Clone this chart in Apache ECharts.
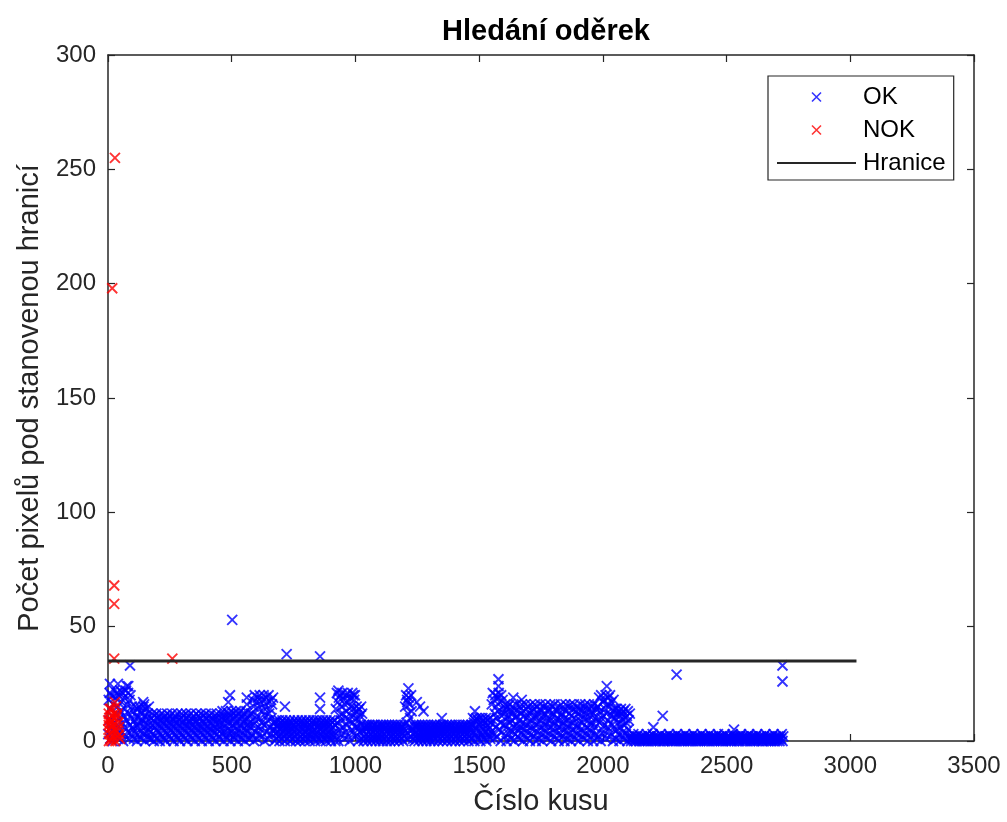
<!DOCTYPE html>
<html>
<head>
<meta charset="utf-8">
<script src="https://cdn.jsdelivr.net/npm/echarts@6/dist/echarts.min.js"></script>
<style>
html,body{margin:0;padding:0;background:#fff;}
#chart{width:1007px;height:822px;}
</style>
</head>
<body>
<div id="chart"></div>
<script>
// ---- data ----
const titleText = 'Hledání oděrek';
const xName = 'Číslo kusu';
const yName = 'Počet pixelů pod stanovenou hranicí';
const xTicks = [0, 500, 1000, 1500, 2000, 2500, 3000, 3500];
const yTicks = [0, 50, 100, 150, 200, 250, 300];

// OK pieces 1..2110, every 2nd piece, one array per stretch of pieces
const okSegStep = 2;
const okSegStarts = [1, 101, 171, 451, 581, 671, 921, 1001, 1031, 1201, 1231, 1471, 1551, 1601, 1661, 1981, 2051];
const okSegA = [3,18,9,21,1,14,6,20,11,0, 16,4,22,8,19,2,12,21,7,15, 1,20,10,5,22,13,3,17,8,21, 0,11,19,6,14,2,22,9,16,4, 21,12,1,18,7,20,10,3,15,6];
const okSegB = [5,13,1,9,15,3,11,7,0,14, 6,10,2,15,8,4,12,1,13,9, 3,15,6,11,0,8,14,4,10,2, 12,7,15,5,1];
const okSegC = [4,10,1,7,12,3,9,0,11,6, 2,8,12,5,1,10,4,7,11,0, 9,3,6,12,2,8,5,10,1,11, 7,0,4,9,12,3,6,10,2,8,
  11,5,1,7,12,4,9,0,6,10, 3,11,8,2,5,12,1,7,9,4, 0,10,6,12,3,8,11,2,5,9, 1,7,12,4,10,0,6,11,3,8,
  9,2,12,5,7,1,10,4,11,6, 0,8,3,12,9,2,5,11,7,1, 10,4,12,6,0,9,3,8,11,5, 2,7,12,1,10,4,6,9,0,11,
  3,8,5,12,2,7,10,1,9,4, 6,11,0,8,12,3,5,10,2,7];
const okSegD = [8,1,12,5,10,3,13,7,0,11, 4,9,2,13,6,10,1,8,12,3, 5,11,0,9,13,4,7,2,12,6, 10,1,8,13,3,11,5,0,9,12,
  2,7,13,4,10,6,1,11,8,3, 12,0,9,5,13,2,7,10,4,11, 1,8,6,12,3];
const okSegE = [12,2,18,7,15,0,20,9,4,17, 11,1,19,6,14,3,20,10,16,5, 8,18,2,13,20,7,0,15,11,19, 4,17,9,1,20,12,6,14,3,18, 10,16,5,19,8];
const okSegF = [5,0,8,3,9,1,6,4,7,2, 9,0,5,8,3,6,1,9,4,7, 2,8,0,5,9,3,6,1,7,4, 8,2,9,0,6,3,5,8,1,7,
  4,9,2,6,0,8,3,5,9,1, 7,4,0,8,2,6,9,3,5,1, 8,7,0,4,9,2,6,3,8,1, 5,9,0,7,3,6,2,8,4,9,
  1,5,7,0,8,3,9,2,6,4, 7,1,9,5,0,8,3,6,2,9, 4,7,1,8,5,0,9,3,6,2, 8,4,7,1,9,0,5,3,8,6, 2,9,4,7,0];
const okSegG = [14,2,21,8,17,0,19,11,5,20, 9,15,3,21,12,6,18,1,16,10, 4,20,13,7,21,2,17,9,0,19, 11,15,5,21,8,14,3,18,12,6];
const okSegH = [10,2,15,6,13,0,9,14,4,11, 7,15,1,12,5];
const okSegI = [4,0,7,2,6,1,5,3,7,0, 6,2,4,7,1,5,3,0,6,7, 2,4,1,7,5,0,3,6,2,7, 4,1,6,0,5,3,7,2,4,6,
  0,7,1,5,3,6,2,7,0,4, 5,1,7,3,6,0,4,2,7,5, 1,6,3,0,7,4,2,5,6,1, 7,3,0,5,2,6,4,7,1,3, 6,0,5,2,7];
const okSegJ = [15,3,20,8,18,1,12,19,6,16, 10,2,20,13,5];
const okSegK = [5,1,7,3,0,6,2,7,4,1, 6,3,0,7,5,2,6,1,4,7, 0,3,6,2,5,7,1,4,0,6, 3,7,2,5,1,6,0,4,7,3,
  5,2,6,0,7,1,4,3,6,7, 2,5,0,6,4,1,7,3,5,2, 6,0,7,4,1,5,3,6,2,7, 0,4,6,1,5,7,3,2,6,0,
  7,4,1,5,3,6,0,7,2,4, 5,1,6,3,7,0,4,2,5,6, 1,7,3,0,6,4,2,7,5,1, 6,3,7,0,4,5,2,6,1,7];
const okSegL = [7,1,10,4,8,0,9,3,6,10, 2,5,9,1,7,10,4,0,8,3, 6,10,2,9,5,1,8,4,10,0, 7,3,9,5,2,10,6,1,8,4];
const okSegM = [16,3,21,9,18,1,12,20,6,15, 10,2,19,13,21,5,17,8,0,20, 11,4,18,14,7];
const okSegN = [12,2,16,7,14,0,10,15,5,11, 3,16,8,13,1,9,15,4,12,6, 0,14,10,3,16,7,11,2,13,5];
const okSegO = [9,1,15,6,12,3,16,8,0,13, 5,11,2,16,7,14,4,10,1,15, 8,12,0,6,16,3,13,9,5,14, 2,11,16,7,0,10,15,4,12,8,
  1,14,6,16,3,9,13,0,11,5, 15,7,2,12,16,4,10,8,1,14, 6,13,3,16,9,0,11,15,5,7, 12,2,16,8,14,4,10,1,13,6,
  0,15,9,3,11,16,7,5,12,2, 14,8,0,10,16,4,13,6,1,15, 9,3,12,7,16,0,11,5,14,2, 8,16,10,4,13,1,6,15,3,12,
  7,0,14,9,16,5,11,2,13,8, 4,15,1,10,16,6,12,3,14,0, 9,16,5,11,7,2,13,15,4,8, 0,12,16,6,10,3,14,1,9,15];
const okSegP = [15,2,19,8,13,0,20,10,5,17, 11,3,18,7,14,20,1,12,16,6, 9,19,4,15,20,2,11,17,7,13, 0,18,10,5,14];
const okSegQ = [10,1,14,5,12,3,8,13,0,11, 6,14,2,9,12,4,13,7,1,10, 14,3,8,11,0,13,5,9,2,12];
const okSegs = [okSegA, okSegB, okSegC, okSegD, okSegE, okSegF, okSegG, okSegH, okSegI, okSegJ, okSegK, okSegL, okSegM, okSegN, okSegO, okSegP, okSegQ];

// OK pieces 2111..2729, every 3rd piece
const okLowStart = 2111;
const okLowStep = 3;
const okLowY = [1,0,2,1,3,0,2,1,0,2, 1,3,0,1,2,0,2,1,0,1, 2,0,3,1,0,2,1,2,0,1, 3,0,2,1,0,1,2,0,2,1,
  0,3,1,2,0,1,0,2,1,2, 0,1,3,0,2,1,0,2,1,0, 2,1,0,3,1,2,0,1,2,0, 1,2,0,1,3,0,2,1,0,2,
  1,0,2,1,0,3,1,2,0,1, 2,0,1,2,0,1,3,0,2,1, 0,2,1,0,2,1,0,3,1,2, 0,1,2,0,1,2,0,1,3,0,
  2,1,0,2,1,0,2,3,1,0, 1,2,0,1,2,0,1,0,3,2, 0,1,2,1,0,2,1,0,2,3, 1,0,2,1,0,1,2,0,1,2,
  3,0,1,2,0,2,1,0,1,2, 0,3,1,0,2,1,2,0,1,0, 2,1,3,0,1,2,0,1,2,0, 1,2,0,3,1,0,2,1,0,2,
  1,0,2,1,3,0,2];

// isolated OK points
const okSpikeX = [8,40,76,82,142,146,89,502,722,857,493,486,561,561,715,857,857,931,998,992,1214,1210,1248,1275,1261,1349,1483,1578,1578,1638,1672,2016,2204,2242,2298,2530,2726,2726];
const okSpikeY = [25,25,24,24,17,16,33,53,38,37,20,17,19,16,15,19,14,22,20,20,23,17,17,13,15,10,13,27,24,19,18,24,6,11,29,5,33,26];
// NOK points
const nokX = [28,17,25,25,25,260,28,32,25,1,5,8,3,12,15,2,18,6,22,10,30,35,40,4,14,20,36,12,45,42,38,48,33,27,7,3,16,44];
const nokY = [255,198,68,60,36,36,17,15,12,9,10,8,7,9,6,5,4,3,2,1,0,4,2,0,0,7,11,14,3,8,12,1,10,5,14,12,11,6];
// limit line
const limitX = [0, 3025];
const limitY = [35, 35];

// ---- build series data ----
const okData = [];
okSegs.forEach((seg, s) => seg.forEach((y, i) => okData.push([okSegStarts[s] + i * okSegStep, y])));
okLowY.forEach((y, i) => okData.push([okLowStart + i * okLowStep, y]));
okSpikeX.forEach((x, i) => okData.push([x, okSpikeY[i]]));
const nokData = nokX.map((x, i) => [x, nokY[i]]);
const limitData = limitX.map((x, i) => [x, limitY[i]]);

const FONT = '"Liberation Sans", Arial, Helvetica, sans-serif';
const AX = '#262626';
const crossPath = 'path://M0,0L10,10M10,0L0,10';

const chart = echarts.init(document.getElementById('chart'), null, {renderer: 'canvas'});

const axisCommon = {
  axisLine: {show: true, onZero: false, lineStyle: {color: AX, width: 1.5}},
  axisTick: {show: true, inside: true, length: 7, lineStyle: {color: AX, width: 1.2}},
  splitLine: {show: false}
};

chart.setOption({
  animation: false,
  backgroundColor: '#fff',
  title: {
    text: titleText,
    left: 541,
    top: 12,
    textAlign: 'center',
    textStyle: {fontFamily: FONT, fontSize: 29, fontWeight: 'bold', color: '#000'}
  },
  legend: {
    orient: 'vertical',
    left: 768,
    top: 76,
    padding: [9, 8, 5, 8],
    itemWidth: 79,
    itemHeight: 9,
    itemGap: 9,
    borderColor: AX,
    borderWidth: 1.2,
    backgroundColor: '#fff',
    textStyle: {fontFamily: FONT, fontSize: 24, lineHeight: 24, color: '#000', padding: [0, 0, 0, 2]},
    data: [
      {name: 'OK', icon: crossPath, itemStyle: {color: 'none', borderColor: '#0000ff', borderWidth: 1.6}},
      {name: 'NOK', icon: crossPath, itemStyle: {color: 'none', borderColor: '#ff0000', borderWidth: 1.6}},
      {name: 'Hranice', itemStyle: {opacity: 0}, lineStyle: {color: AX, width: 2}}
    ]
  },
  grid: {left: 108, right: 33, top: 55, bottom: 81, containLabel: false},
  xAxis: [
    Object.assign({
      type: 'value', position: 'bottom', min: xTicks[0], max: xTicks[xTicks.length - 1], interval: 500,
      name: xName, nameLocation: 'middle', nameGap: 46,
      nameTextStyle: {fontFamily: FONT, fontSize: 29, color: AX},
      axisLabel: {fontFamily: FONT, fontSize: 24, color: AX, margin: 13, formatter: v => String(v)}
    }, axisCommon),
    Object.assign({
      type: 'value', position: 'top', min: xTicks[0], max: xTicks[xTicks.length - 1], interval: 500,
      axisLabel: {show: false}
    }, axisCommon)
  ],
  yAxis: [
    Object.assign({
      type: 'value', position: 'left', min: yTicks[0], max: yTicks[yTicks.length - 1], interval: 50,
      name: yName, nameLocation: 'middle', nameGap: 64,
      nameTextStyle: {fontFamily: FONT, fontSize: 29, color: AX},
      axisLabel: {fontFamily: FONT, fontSize: 24, color: AX, margin: 12, formatter: v => String(v)}
    }, axisCommon),
    Object.assign({
      type: 'value', position: 'right', min: yTicks[0], max: yTicks[yTicks.length - 1], interval: 50,
      axisLabel: {show: false}
    }, axisCommon)
  ],
  series: [
    {
      name: 'OK', type: 'scatter', data: okData, clip: false, large: false,
      symbol: crossPath, symbolSize: 10, symbolKeepAspect: true,
      itemStyle: {color: 'none', borderColor: '#0000ff', borderWidth: 1.9},
      emphasis: {disabled: true}, z: 2
    },
    {
      name: 'NOK', type: 'scatter', data: nokData, clip: false,
      symbol: crossPath, symbolSize: 10, symbolKeepAspect: true,
      itemStyle: {color: 'none', borderColor: '#ff0000', borderWidth: 1.9},
      emphasis: {disabled: true}, z: 3
    },
    {
      name: 'Hranice', type: 'line', data: limitData, showSymbol: false, symbol: 'none',
      lineStyle: {color: AX, width: 3}, itemStyle: {color: AX},
      emphasis: {disabled: true}, z: 4
    }
  ]
});
</script>
</body>
</html>
